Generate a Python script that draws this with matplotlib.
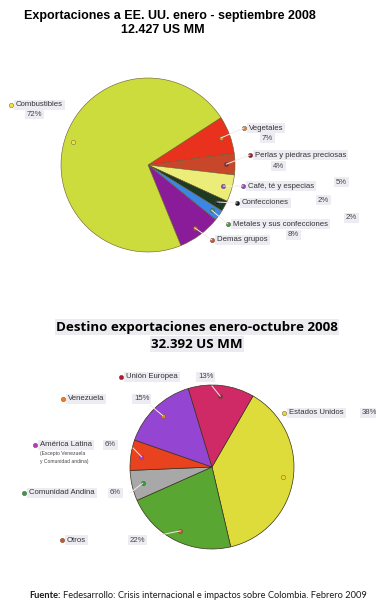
import numpy as np
import matplotlib
matplotlib.use("Agg")
import matplotlib.pyplot as plt
from matplotlib.lines import Line2D

# ---- data: chart 1 (exports to the US, Jan-Sep 2008) ----
cat1 = ["Vegetales", "Perlas y piedras preciosas", "Café, té y especias",
        "Confecciones", "Metales y sus confecciones", "Demas grupos", "Combustibles"]
val1 = [7, 4, 5, 2, 2, 8, 72]
pct1 = ["7%", "4%", "5%", "2%", "2%", "8%", "72%"]

# ---- data: chart 2 (export destinations, Jan-Oct 2008) ----
cat2 = ["Estados Unidos", "Otros", "Comunidad Andina", "América Latina",
        "Venezuela", "Unión Europea"]
val2 = [38, 22, 6, 6, 15, 13]
pct2 = ["38%", "22%", "6%", "6%", "15%", "13%"]

# ---- styling ----
col1 = ["#e8321e", "#c8462a", "#ecec78", "#1e3a22", "#3c86e6", "#8a1c9a", "#cbdc3c"]
dot1 = ["#e8801e", "#a01828", "#9a40c8", "#101010", "#3c9a3c", "#d84a1e", "#f0e040"]
col2 = ["#dedc3a", "#5aa632", "#a8a8a8", "#e8421e", "#9446d2", "#d02a66"]
dot2 = ["#e8d830", "#d8501e", "#3c9a3c", "#b040b0", "#e8801e", "#b01830"]

W, H = 376, 611
fig = plt.figure(figsize=(W / 100, H / 100), dpi=100, facecolor="white")


def fx(x):
    return x / W


def fy(y):
    return 1 - y / H


def pie_axes(cx, cy, r):
    ax = fig.add_axes([fx(cx - r), fy(cy + r), 2 * r / W, 2 * r / H])
    ax.axis("off")
    return ax


def fix_limits(ax):
    # pie() resets the limits to +-1.25, put them back so radius fills the box
    ax.set_xlim(-1, 1)
    ax.set_ylim(-1, 1)
    ax.set_aspect("equal")


def label(x, y, name, dc):
    fig.text(fx(x + 5), fy(y), name, fontsize=5.6, color="#333333",
             family="Liberation Sans", va="center", ha="left",
             bbox=dict(boxstyle="square,pad=0.25", fc="#ececf2", ec="none"))
    fig.add_artist(Line2D([fx(x)], [fy(y)], marker="o", ms=3.2, color=dc,
                          mec="#555555", mew=0.3, transform=fig.transFigure))


def pct_text(x, y, s):
    fig.text(fx(x), fy(y), s, fontsize=5.6, color="#444444",
             family="Liberation Sans", va="center", ha="left",
             bbox=dict(boxstyle="square,pad=0.25", fc="#ececf2", ec="none"))


def wedge_dots(ax, wedges, colors, rfrac, cx, cy, r, targets):
    for w, c, t in zip(wedges, colors, targets):
        a = np.deg2rad((w.theta1 + w.theta2) / 2)
        x, y = rfrac * np.cos(a), rfrac * np.sin(a)
        ax.plot(x, y, "o", ms=3.2, color=c, mec="#555555", mew=0.3, zorder=5)
        if t is not None:
            px = cx + x * r
            py = cy - y * r
            fig.add_artist(Line2D([fx(px), fx(t[0])], [fy(py), fy(t[1])],
                                  color="#f2eaea", lw=0.7, transform=fig.transFigure))


# ================= chart 1 =================
fig.text(fx(170), fy(16), "Exportaciones a EE. UU. enero - septiembre 2008",
         fontsize=9, fontweight="bold", family="Liberation Sans", ha="center", va="center")
fig.text(fx(163), fy(30), "12.427 US MM", fontsize=9, fontweight="bold",
         family="Liberation Sans", ha="center", va="center")

cx1, cy1, r1 = 148, 165, 87
ax1 = pie_axes(cx1, cy1, r1)
w1, _ = ax1.pie(val1, colors=col1, startangle=33, counterclock=False, radius=1,
                wedgeprops=dict(edgecolor="#6a5a30", linewidth=0.4))
fix_limits(ax1)

lab1 = [(244, 128), (250, 155), (243, 186), (237, 203), (228, 224), (212, 240), (11, 105)]
pctpos1 = [(262, 138), (273, 166), (336, 182), (318, 200), (346, 218), (288, 235), (27, 114)]
for name, p, (x, y), (px, py), dc in zip(cat1, pct1, lab1, pctpos1, dot1):
    label(x, y, name, dc)
    pct_text(px, py, p)
wedge_dots(ax1, w1, dot1, 0.9, cx1, cy1, r1, lab1[:6] + [None])

# ================= chart 2 =================
fig.text(fx(197), fy(327), "Destino exportaciones enero-octubre 2008",
         fontsize=9.6, fontweight="bold", family="Open Sans", ha="center", va="center",
         bbox=dict(boxstyle="square,pad=0.1", fc="#ececf0", ec="none"))
fig.text(fx(197), fy(344), "32.392 US MM", fontsize=9.6, fontweight="bold",
         family="Open Sans", ha="center", va="center",
         bbox=dict(boxstyle="square,pad=0.1", fc="#ececf0", ec="none"))

cx2, cy2, r2 = 212, 467, 82
ax2 = pie_axes(cx2, cy2, r2)
w2, _ = ax2.pie(val2, colors=col2, startangle=60, counterclock=False, radius=1,
                wedgeprops=dict(edgecolor="#3a3020", linewidth=0.5))
fix_limits(ax2)

lab2 = [(284, 413), (62, 540), (24, 493), (35, 445), (63, 399), (121, 377)]
pctpos2 = [(362, 413), (130, 540), (110, 493), (105, 445), (134, 399), (198, 377)]
for name, p, (x, y), (px, py), dc in zip(cat2, pct2, lab2, pctpos2, dot2):
    label(x, y, name, dc)
    pct_text(px, py, p)
fig.text(fx(40), fy(453), "(Excepto Venezuela", fontsize=3.6, color="#444444",
         family="Liberation Sans", va="center", ha="left")
fig.text(fx(40), fy(461), "y Comunidad andina)", fontsize=3.6, color="#444444",
         family="Liberation Sans", va="center", ha="left")
wedge_dots(ax2, w2, dot2, 0.87, cx2, cy2, r2,
           [None, (160, 535), (130, 493), (133, 448), (150, 405), (212, 386)])

# ================= footer =================
t_src = fig.text(fx(29), fy(596), "Fuente:", fontsize=6.7, fontweight="bold",
                 family="Lato", color="#1a1a1a", ha="left", va="center")
fig.canvas.draw()
bb = t_src.get_window_extent()
fig.text((bb.x1 + 3) / W, fy(596),
         "Fedesarrollo: Crisis internacional e impactos sobre Colombia. Febrero 2009",
         fontsize=6.7, family="Lato", color="#1a1a1a", ha="left", va="center")

fig.savefig("out.png", dpi=100, facecolor="white")
